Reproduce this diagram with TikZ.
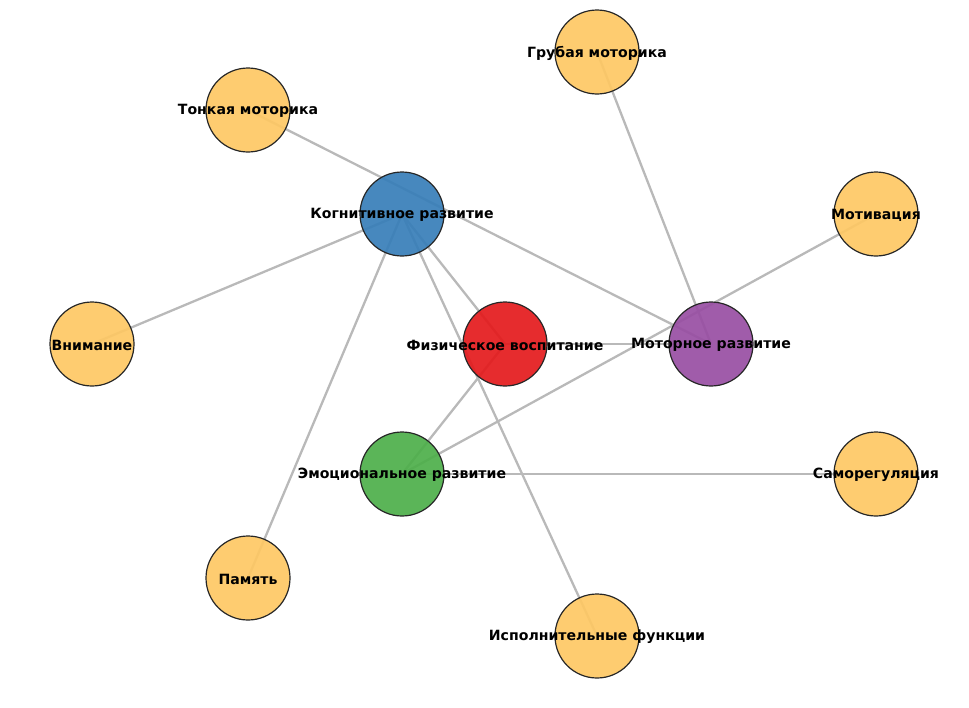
\documentclass[tikz,border=0pt]{standalone}
\usepackage{fontspec}
\setmainfont{DejaVu Sans}
\definecolor{cyell}{RGB}{254,200,100}
\definecolor{cblue}{RGB}{55,126,184}
\definecolor{cred}{RGB}{228,26,28}
\definecolor{cpurp}{RGB}{152,78,163}
\definecolor{cgreen}{RGB}{77,175,74}
\definecolor{cedge}{RGB}{185,185,185}
\tikzset{
  circ/.style={circle, draw=black!85, line width=1.2pt, minimum size=84pt, inner sep=0pt, fill opacity=0.92},
  lbl/.style={font=\fontsize{14.1}{16}\selectfont\bfseries, text=black, inner sep=0pt, yshift=-1pt},
  edge/.style={draw=cedge, line width=2.3pt},
}
\begin{document}
\begin{tikzpicture}[x=1pt,y=-1pt]
\useasboundingbox (0,0) rectangle (969,707);
% coordinates
\coordinate (gm) at (597,52);
\coordinate (tm) at (248,110);
\coordinate (kr) at (402,214);
\coordinate (mv) at (876,214);
\coordinate (vn) at (92,344);
\coordinate (fv) at (505,344);
\coordinate (mr) at (711,344);
\coordinate (er) at (402,474);
\coordinate (sr) at (876,474);
\coordinate (pm) at (248,578);
\coordinate (if) at (597,636);
% edges
\draw[edge] (tm) -- (mr);
\draw[edge] (gm) -- (mr);
\draw[edge] (mv) -- (er);
\draw[edge] (kr) -- (vn);
\draw[edge] (kr) -- (pm);
\draw[edge] (kr) -- (if);
\draw[edge] (kr) -- (fv);
\draw[edge] (fv) -- (mr);
\draw[edge] (fv) -- (er);
\draw[edge] (er) -- (sr);
% nodes
\node[circ, fill=cyell] (ngm) at (gm) {};
\node[circ, fill=cyell] (ntm) at (tm) {};
\node[circ, fill=cblue] (nkr) at (kr) {};
\node[circ, fill=cyell] (nmv) at (mv) {};
\node[circ, fill=cyell] (nvn) at (vn) {};
\node[circ, fill=cred] (nfv) at (fv) {};
\node[circ, fill=cpurp] (nmr) at (mr) {};
\node[circ, fill=cgreen] (ner) at (er) {};
\node[circ, fill=cyell] (nsr) at (sr) {};
\node[circ, fill=cyell] (npm) at (pm) {};
\node[circ, fill=cyell] (nif) at (if) {};
% labels
\node[lbl] (lgm) at (gm) {Грубая моторика};
\node[lbl] (ltm) at (tm) {Тонкая моторика};
\node[lbl] (lkr) at (kr) {Когнитивное развитие};
\node[lbl] (lmv) at (mv) {Мотивация};
\node[lbl] (lvn) at (vn) {Внимание};
\node[lbl] (lfv) at (fv) {Физическое воспитание};
\node[lbl] (lmr) at (mr) {Моторное развитие};
\node[lbl] (ler) at (er) {Эмоциональное развитие};
\node[lbl] (lsr) at (sr) {Саморегуляция};
\node[lbl] (lpm) at (pm) {Память};
\node[lbl] (lif) at (if) {Исполнительные функции};
\end{tikzpicture}
\end{document}
